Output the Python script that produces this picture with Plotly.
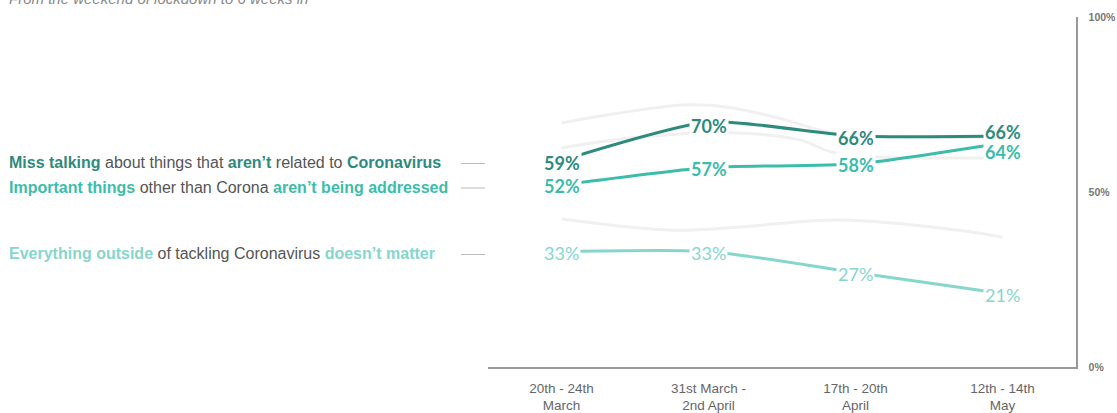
import plotly.graph_objects as go

categories = ["20th - 24th<br>March", "31st March -<br>2nd April", "17th - 20th<br>April", "12th - 14th<br>May"]
miss_talking = [59, 70, 66, 66]
important_things = [52, 57, 58, 64]
everything_outside = [33, 33, 27, 21]

# faint grey background curves
ghost_a_x = [0, 0.31, 0.85, 1.12, 1.48, 1.84, 2.3, 3.0]
ghost_a_y = [69.7, 72, 74.9, 74.3, 71.1, 66.9, 65.7, 65.7]
ghost_b_x = [0, 0.53, 1.16, 1.62, 1.84, 2.14, 2.84, 3.0]
ghost_b_y = [62.6, 65.7, 66.9, 64.9, 61.4, 60, 59.7, 59.7]
ghost_c_x = [0, 0.76, 1.21, 1.89, 2.7, 3.0]
ghost_c_y = [42.3, 39.1, 40, 42, 39.1, 37.1]

tick_vals = [0, 50, 100]
tick_text = ["0%", "50%", "100%"]

DARK = "#2e8a7c"
MID = "#3dbcab"
LIGHT = "#86d6cc"
GREY_TXT = "#555555"
GHOST = "#f0f0f0"

L, R, T, B = 488, 41, 17, 46
PW = 1117 - L - R


def px(page_x):
    return (page_x - L) / PW


series = [
    (miss_talking, DARK, "bold"),
    (important_things, MID, "bold"),
    (everything_outside, LIGHT, "normal"),
]

fig = go.Figure()
for gx, gy in [(ghost_a_x, ghost_a_y), (ghost_b_x, ghost_b_y), (ghost_c_x, ghost_c_y)]:
    fig.add_trace(go.Scatter(x=gx, y=gy, mode="lines", line=dict(color=GHOST, width=3, shape="spline", smoothing=1.0),
                             hoverinfo="skip", showlegend=False))

xs = list(range(len(categories)))
for vals, col, _ in series:
    fig.add_trace(go.Scatter(x=xs, y=vals, mode="lines", line=dict(color=col, width=3, shape="spline", smoothing=0.6),
                             showlegend=False))

# label offsets (pixels) to mimic the reference placement
label_shift = {
    (0, 0): -2, (0, 1): -4, (0, 2): -2, (0, 3): 4,
    (1, 0): -1, (1, 1): -1, (1, 2): -1, (1, 3): -9,
    (2, 0): -1, (2, 1): -1, (2, 2): -1, (2, 3): -1,
}
for si, (vals, col, weight) in enumerate(series):
    for i, v in enumerate(vals):
        txt = f"{v}%"
        if weight == "bold":
            txt = f"<b>{txt}</b>"
        fig.add_annotation(x=i, y=v, xref="x", yref="y", text=txt, showarrow=False,
                           font=dict(family="Lato", size=18, color=col),
                           bgcolor="white", borderpad=1, yshift=label_shift[(si, i)])

legend_texts = [
    f"<b><span style='color:{DARK}'>Miss talking</span></b> about things that <b><span style='color:{DARK}'>aren’t</span></b> related to <b><span style='color:{DARK}'>Coronavirus</span></b>",
    f"<b><span style='color:{MID}'>Important things</span></b> other than Corona <b><span style='color:{MID}'>aren’t being addressed</span></b>",
    f"<b><span style='color:{LIGHT}'>Everything outside</span></b> of tackling Coronavirus <b><span style='color:{LIGHT}'>doesn’t matter</span></b>",
]
for (vals, col, _), t in zip(series, legend_texts):
    fig.add_annotation(x=px(9), y=vals[0], xref="paper", yref="y", text=t, showarrow=False,
                       xanchor="left", yshift=-2, borderpad=0, borderwidth=0,
                       font=dict(family="Liberation Sans, Arial", size=16, color=GREY_TXT))
    fig.add_shape(type="line", xref="paper", yref="y", x0=px(461), x1=px(485),
                  ysizemode="pixel", yanchor=vals[0], y0=-3, y1=-3,
                  line=dict(color="#bbbbbb", width=1))

fig.add_annotation(x=px(9), y=1, xref="paper", yref="paper", yanchor="bottom", xanchor="left", yshift=10,
                   borderpad=0, borderwidth=0,
                   text="<i>From the weekend of lockdown to 6 weeks in</i>", showarrow=False,
                   font=dict(family="Liberation Sans, Arial", size=15, color="#888888"))

fig.update_layout(
    width=1117, height=413,
    margin=dict(l=L, r=R, t=T, b=B, autoexpand=False),
    paper_bgcolor="white", plot_bgcolor="white",
    xaxis=dict(range=[-0.5, 3.5], tickvals=xs, ticktext=categories, showgrid=False, zeroline=False,
               showline=True, linecolor="#999999", linewidth=1.5, automargin=False,
               ticklabelstandoff=8,
               tickfont=dict(family="Liberation Sans, Arial", size=13.5, color="#666666")),
    yaxis=dict(range=[0, 100], side="right", tickvals=tick_vals, ticktext=tick_text, showgrid=False,
               zeroline=False, showline=True, linecolor="#999999", linewidth=1.5, automargin=False,
               ticklabelstandoff=9,
               tickfont=dict(family="Liberation Sans, Arial", size=10.5, color="#777777", weight="bold")),
)

fig.write_html("out.html", config={"displayModeBar": False, "staticPlot": True},
               post_script="document.body.style.margin='0';")
